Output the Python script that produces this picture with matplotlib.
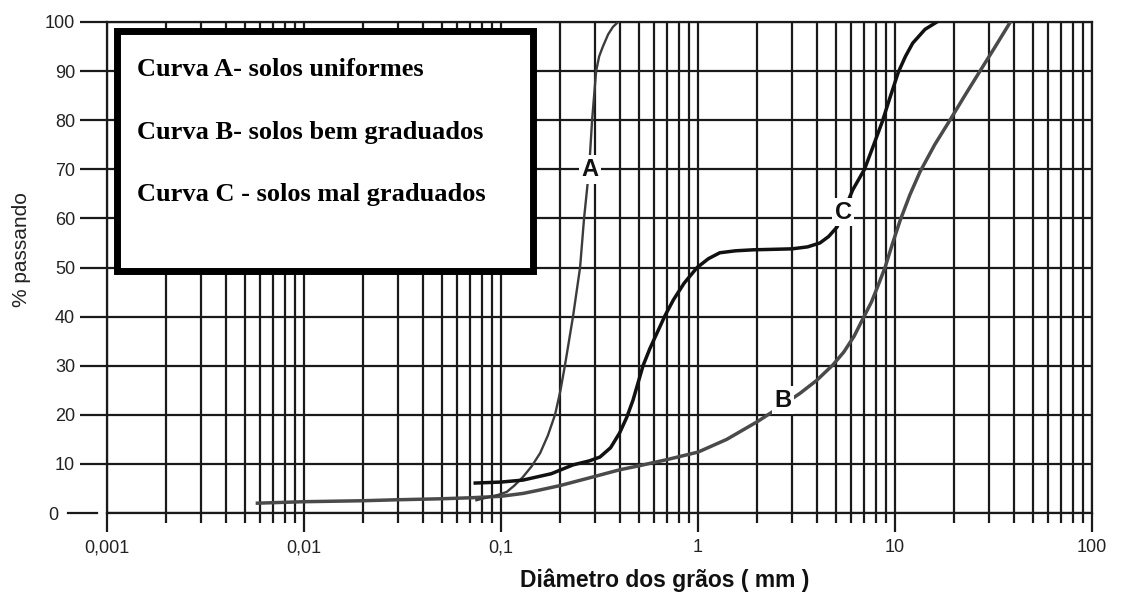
import matplotlib
matplotlib.use("Agg")
import matplotlib.pyplot as plt
import matplotlib.transforms as mtransforms
from matplotlib.lines import Line2D
from matplotlib.patches import Rectangle
from matplotlib.ticker import FixedLocator, FixedFormatter, LogLocator, NullFormatter

# Grain-size distribution curves (diameter in mm, percent passing)
diam_a = [0.075, 0.08, 0.088, 0.097, 0.107, 0.117, 0.129, 0.143, 0.158, 0.173,
          0.188, 0.200, 0.211, 0.232, 0.252, 0.264, 0.280, 0.290, 0.304, 0.315,
          0.329, 0.350, 0.370, 0.393]
pass_a = [2.6, 2.9, 3.3, 3.7, 4.3, 5.6, 7.3, 9.5, 12.2, 15.8,
          20, 24.8, 30, 40, 50, 60, 70, 80, 90, 93,
          95, 97.5, 99, 100]

diam_b = [0.0058, 0.01, 0.02, 0.03, 0.05, 0.07, 0.1, 0.13, 0.158, 0.2, 0.29,
          0.4, 0.5, 0.7, 1.0, 1.4, 2.0, 2.7, 3.3, 4.0, 4.85, 5.5, 6.2, 6.8,
          7.6, 8.2, 8.9, 9.7, 10.6, 11.9, 13.4, 15.9, 19.0, 22.6, 27.0, 32.3, 38.5]
pass_b = [2.0, 2.3, 2.5, 2.7, 2.9, 3.1, 3.4, 4.0, 4.7, 5.6, 7.3,
          8.8, 9.6, 10.9, 12.4, 15.0, 18.6, 22.0, 24.4, 27.0, 30.2, 32.8, 36.0, 39.2,
          43.0, 46.3, 50, 54.8, 59.5, 64.8, 69.5, 75, 80, 85, 90, 95, 100]

diam_c = [0.074, 0.1, 0.129, 0.18, 0.232, 0.28, 0.318, 0.36, 0.40, 0.435, 0.468,
          0.526, 0.57, 0.62, 0.68, 0.75, 0.85, 0.99, 1.13, 1.29, 1.55, 1.9, 2.4,
          3.0, 3.6, 4.16, 4.6, 5.07, 5.5, 6.1, 7.0, 7.8, 8.6, 9.5, 10.4, 11.3,
          12.3, 14.2, 16.3]
pass_c = [6.1, 6.3, 6.7, 8.0, 9.8, 10.6, 11.4, 13.3, 16.3, 19.5, 23,
          30, 33.5, 36.7, 40.2, 43.4, 46.8, 50, 51.8, 53, 53.4, 53.6, 53.7,
          53.8, 54.2, 55, 56.3, 58.2, 61.5, 65.8, 70, 75, 79.6, 85, 89.8, 93,
          95.7, 98.5, 100]

x_ticks = [0.001, 0.01, 0.1, 1, 10, 100]
x_tick_labels = ["0,001", "0,01", "0,1", "1", "10", "100"]
y_ticks = [0, 10, 20, 30, 40, 50, 60, 70, 80, 90, 100]

curve_labels = ["A", "B", "C"]
curve_label_pos = [(0.283, 70), (2.70, 23), (5.45, 61.3)]

legend_lines = ["Curva A- solos uniformes",
                "Curva B- solos bem graduados",
                "Curva C - solos mal graduados"]

W, H = 1130, 596
fig = plt.figure(figsize=(W / 100, H / 100), dpi=100)
ax = fig.add_axes([107 / W, 1 - 513 / H, (1092 - 107) / W, (513 - 22) / H])

ax.set_xscale("log")
ax.set_xlim(0.001, 100)
ax.set_ylim(0, 100)

grid_color = "#1a1a1a"
ax.xaxis.set_major_locator(FixedLocator(x_ticks))
ax.xaxis.set_major_formatter(FixedFormatter(x_tick_labels))
ax.xaxis.set_minor_locator(LogLocator(base=10, subs=range(2, 10)))
ax.xaxis.set_minor_formatter(NullFormatter())
ax.yaxis.set_major_locator(FixedLocator(y_ticks))

ax.grid(True, which="both", axis="x", color=grid_color, lw=1.6)
ax.grid(True, which="major", axis="y", color=grid_color, lw=1.6)
ax.set_axisbelow(True)

for side in ["left", "right", "top", "bottom"]:
    ax.spines[side].set_color(grid_color)
    ax.spines[side].set_linewidth(1.6)

ax.tick_params(axis="x", which="major", direction="out", length=14, width=1.6,
               color=grid_color, pad=5)
ax.tick_params(axis="x", which="minor", direction="out", length=7, width=1.6,
               color=grid_color)
ax.tick_params(axis="y", which="major", direction="out", length=19.5, width=1.6,
               color=grid_color, pad=3.5)
for lab in ax.get_xticklabels() + ax.get_yticklabels():
    lab.set_fontfamily("Liberation Sans")
    lab.set_fontsize(13)
    lab.set_color("#222222")

# The zero tick is a detached dash set further left, with its label beside it
zero_tick = ax.yaxis.get_major_ticks()[0]
zero_tick.tick1line.set_visible(False)
zero_tick.set_pad(15.7)
zero_dash_tf = mtransforms.blended_transform_factory(fig.transFigure, ax.transData)
fig.add_artist(Line2D([68 / W, 97 / W], [y_ticks[0], y_ticks[0]],
                      transform=zero_dash_tf, color=grid_color, lw=1.6))

# Curves
ax.plot(diam_b, pass_b, color="#4a4a4a", lw=2.5, solid_joinstyle="round", zorder=3)
ax.plot(diam_a, pass_a, color="#3c3c3c", lw=1.7, solid_joinstyle="round", zorder=3)
ax.plot(diam_c, pass_c, color="#111111", lw=2.5, solid_joinstyle="round", zorder=3)

for lbl, (xv, yv) in zip(curve_labels, curve_label_pos):
    ax.text(xv, yv, lbl, ha="center", va="center", fontsize=17, fontweight="bold",
            family="Liberation Sans", color="#111111", zorder=5,
            bbox=dict(boxstyle="square,pad=0.12", fc="white", ec="none"))

# Legend box
rect = Rectangle((116.5 / W, 1 - 271 / H), (533 - 116.5) / W, (271 - 31) / H,
                 transform=fig.transFigure, fc="white", ec="black", lw=5,
                 zorder=10, clip_on=False)
ax.add_artist(rect)
for i, line in enumerate(legend_lines):
    fig.text(137 / W, 1 - (70 + i * 62) / H, line, ha="left", va="center",
             family="Liberation Serif", fontweight="bold", fontsize=19,
             color="black", zorder=11)

fig.text(665 / W, 1 - 580 / H, "Diâmetro dos grãos ( mm )", ha="center",
         va="center", family="Liberation Sans", fontweight="bold", fontsize=16.5,
         color="#111111")
fig.text(22 / W, 1 - 250 / H, "% passando", ha="center", va="center",
         rotation=90, family="Liberation Sans", fontsize=15, color="#222222")

fig.savefig("out.png", dpi=100, facecolor="white")
